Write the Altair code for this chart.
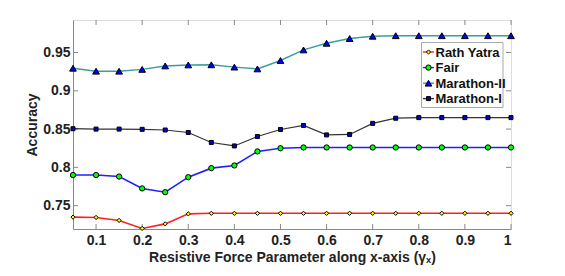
import altair as alt
import pandas as pd

x_vals = [0.05, 0.10, 0.15, 0.20, 0.25, 0.30, 0.35, 0.40, 0.45, 0.50,
          0.55, 0.60, 0.65, 0.70, 0.75, 0.80, 0.85, 0.90, 0.95, 1.00]

rath_yatra = [0.735, 0.7346, 0.7307, 0.7202, 0.7262, 0.7393, 0.740, 0.740, 0.740, 0.740,
              0.740, 0.740, 0.740, 0.740, 0.740, 0.740, 0.740, 0.740, 0.740, 0.740]
fair = [0.790, 0.790, 0.788, 0.7725, 0.7676, 0.7872, 0.799, 0.8025, 0.8208, 0.825,
        0.826, 0.826, 0.826, 0.826, 0.826, 0.826, 0.826, 0.826, 0.826, 0.826]
marathon_2 = [0.9295, 0.9256, 0.9256, 0.928, 0.9325, 0.9338, 0.934, 0.931, 0.9286, 0.9396,
              0.9534, 0.9621, 0.9683, 0.9713, 0.972, 0.972, 0.972, 0.972, 0.972, 0.972]
marathon_1 = [0.8505, 0.850, 0.850, 0.8497, 0.8488, 0.8456, 0.8325, 0.828, 0.8403, 0.8495,
              0.8547, 0.8424, 0.843, 0.8575, 0.8642, 0.865, 0.865, 0.865, 0.865, 0.865]

series_names = ["Rath Yatra", "Fair", "Marathon-II", "Marathon-I"]
series_values = [rath_yatra, fair, marathon_2, marathon_1]
line_colors = ["#ff2020", "#2020ff", "#3a9e9e", "#333333"]
marker_fills = ["#ffff00", "#00ff00", "#0000ff", "#0000cc"]
marker_shapes = ["diamond", "circle", "triangle-up", "square"]
marker_sizes = [18, 28, 45, 16]
line_widths = [1.6, 1.6, 1.4, 1.2]

y_ticks = [0.75, 0.8, 0.85, 0.9, 0.95]
x_ticks = [0.1, 0.2, 0.3, 0.4, 0.5, 0.6, 0.7, 0.8, 0.9, 1.0]

W, H = 438, 209
FONT = "Liberation Sans"

xs = alt.Scale(domain=[0.05, 1.0], nice=False, zero=False)
ys = alt.Scale(domain=[0.7195, 0.9925], nice=False, zero=False)

x_axis = alt.Axis(values=x_ticks, format="~g", title="Resistive Force Parameter along x-axis (γₓ)",
                  grid=False, ticks=False, domainColor="#888888", labelFontWeight="bold",
                  labelFontSize=14, labelColor="#222222", labelFont=FONT, labelPadding=4,
                  titleFont=FONT, titleFontSize=14, titleFontWeight="bold", titleColor="#222222",
                  titlePadding=3)
y_axis = alt.Axis(values=y_ticks, format="~g", title="Accuracy", grid=False, ticks=False,
                  domainColor="#888888", labelFontWeight="bold", labelFontSize=14,
                  labelColor="#222222", labelFont=FONT, labelPadding=3, titleFont=FONT,
                  titleFontSize=14, titleFontWeight="bold", titleColor="#222222", titlePadding=3)

layers = []

# inward ticks on all four sides
xt = pd.DataFrame({"x": x_ticks})
yt = pd.DataFrame({"y": y_ticks})
tick_style = dict(color="#888888", strokeWidth=1)
layers.append(alt.Chart(xt).mark_rule(**tick_style).encode(
    x=alt.X("x:Q", scale=xs, axis=x_axis), y=alt.value(H), y2=alt.value(H - 5)))
layers.append(alt.Chart(xt).mark_rule(**tick_style).encode(
    x=alt.X("x:Q", scale=xs), y=alt.value(0), y2=alt.value(5)))
layers.append(alt.Chart(yt).mark_rule(**tick_style).encode(
    y=alt.Y("y:Q", scale=ys, axis=y_axis), x=alt.value(0), x2=alt.value(5)))
layers.append(alt.Chart(yt).mark_rule(**tick_style).encode(
    y=alt.Y("y:Q", scale=ys), x=alt.value(W), x2=alt.value(W - 5)))

for name, vals, lc, mf, ms, sz, lw in zip(series_names, series_values, line_colors,
                                           marker_fills, marker_shapes, marker_sizes, line_widths):
    d = pd.DataFrame({"x": x_vals, "y": vals, "series": name})
    b = alt.Chart(d)
    layers.append(b.mark_line(color=lc, strokeWidth=lw).encode(
        x=alt.X("x:Q", scale=xs), y=alt.Y("y:Q", scale=ys)))
    layers.append(b.mark_point(shape=ms, size=sz, filled=True, fill=mf, stroke="black",
                               strokeWidth=1, opacity=1).encode(
        x=alt.X("x:Q", scale=xs), y=alt.Y("y:Q", scale=ys)))

# legend (drawn by hand so each entry shows line + marker)
LX0, LX1, LY0, LY1 = 348.5, 430, 22.5, 87.5
layers.append(alt.Chart(pd.DataFrame({"a": [0]})).mark_rect(
    fill="white", stroke="#aaaaaa", strokeWidth=1).encode(
    x=alt.value(LX0), x2=alt.value(LX1), y=alt.value(LY0), y2=alt.value(LY1)))
row_y = [32, 47.6, 63.2, 78.6]
for name, lc, mf, ms, sz, ry in zip(series_names, line_colors, marker_fills, marker_shapes,
                                    marker_sizes, row_y):
    e = alt.Chart(pd.DataFrame({"label": [name]}))
    layers.append(e.mark_rule(color=lc, strokeWidth=1.4).encode(
        x=alt.value(350), x2=alt.value(361), y=alt.value(ry)))
    layers.append(e.mark_point(shape=ms, size=sz, filled=True, fill=mf, stroke="black",
                               strokeWidth=1, opacity=1).encode(
        x=alt.value(355.5), y=alt.value(ry)))
    layers.append(e.mark_text(align="left", baseline="middle", font=FONT, fontSize=13,
                              fontWeight="bold", color="#111111").encode(
        x=alt.value(362.5), y=alt.value(ry + 0.5), text="label:N"))

chart = alt.layer(*layers).properties(
    width=W, height=H,
    autosize=alt.AutoSizeParams(type="none"),
    padding={"left": 65, "top": 12, "right": 30, "bottom": 38},
).configure_view(stroke="#888888", strokeWidth=1).configure(background="white")

chart.save("out.html", embed_options={"renderer": "svg", "actions": False})
